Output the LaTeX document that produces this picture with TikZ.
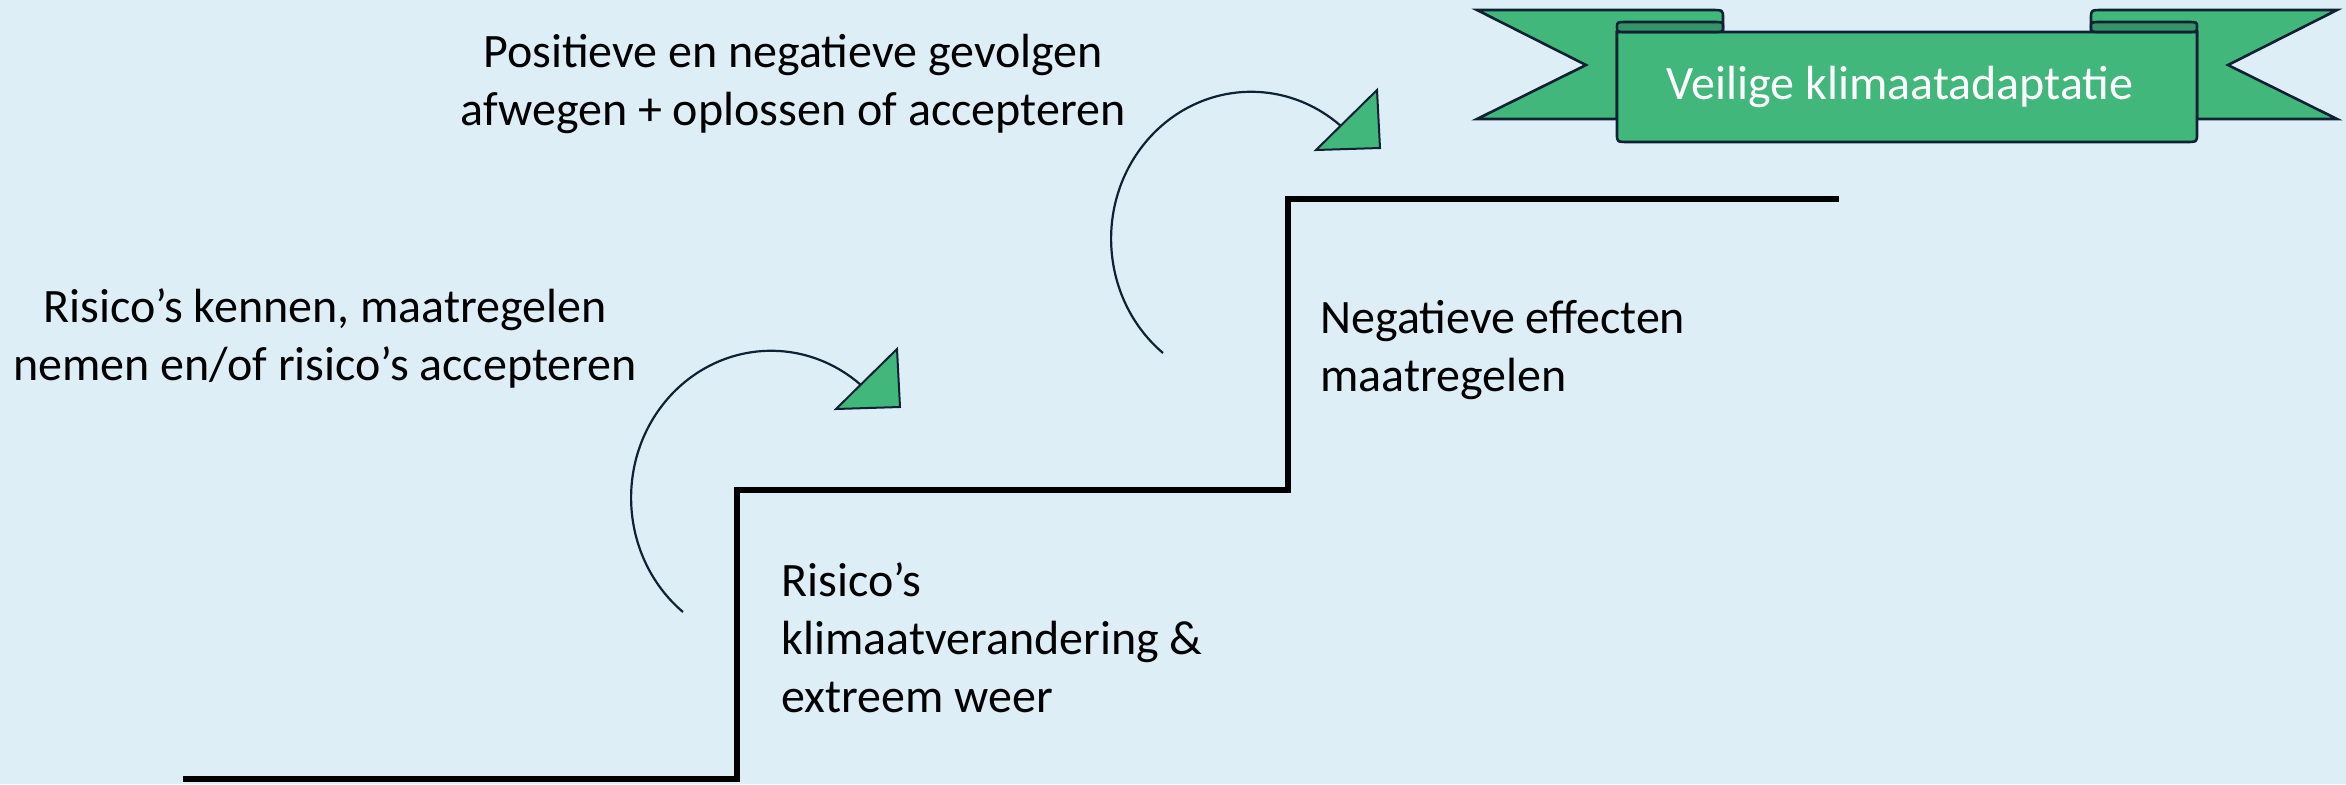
\documentclass[tikz,border=0pt]{standalone}
\usepackage{fontspec}
\setmainfont{Carlito}
\definecolor{bg}{HTML}{DDEEF7}
\definecolor{rib}{HTML}{41B77B}
\definecolor{ribdark}{HTML}{359468}
\definecolor{edgec}{HTML}{0E2233}
\tikzset{
  lbl/.style={font=\fontsize{24pt}{29pt}\selectfont, text=black, inner sep=0pt},
  stair/.style={line width=3.4pt, line join=miter, draw=black},
  curve/.style={line width=1.1pt, draw=edgec},
  tip/.style={fill=rib, draw=edgec, line width=1pt, line join=miter},
  ribpart/.style={fill=rib, draw=edgec, line width=1.3pt, line join=miter},
  ribroll/.style={fill=ribdark, draw=edgec, line width=1.3pt}
}
\begin{document}
\begin{tikzpicture}[x=0.5pt,y=-0.5pt]
\path[fill=bg] (0,0) rectangle (2346,784);
\useasboundingbox (0,0) rectangle (2346,784);

% staircase
\draw[stair] (183,779) -- (737,779) -- (737,490) -- (1288,490) -- (1288,199) -- (1839,199);

% curved arrows
\coordinate (a1s) at (683,612);
\draw[curve] (a1s) arc[start angle=129, end angle=311, x radius=140, y radius=147];
\draw[tip] (897,349) -- (900,407) -- (836,409) -- cycle;
\coordinate (a2s) at (1163,353);
\draw[curve] (a2s) arc[start angle=129, end angle=311, x radius=140, y radius=147];
\draw[tip] (1377,90) -- (1380,148) -- (1316,150) -- cycle;

% banner halves
\foreach \sx in {1,-1}{
\begin{scope}[shift={(1907,0)}, xscale=\sx]
  \draw[ribpart] (-430,10) -- (-196,10) .. controls (-184,10) .. (-184,18) -- (-184,32)
     -- (-290,32) -- (-290,119) -- (-430,119) -- (-321,65) -- cycle;
\end{scope}
}
% main panel
\draw[ribpart] (1617,32) -- (1617,134) .. controls (1617,142) .. (1629,142) -- (2185,142)
   .. controls (2197,142) .. (2197,134) -- (2197,32) -- cycle;
\foreach \sx in {1,-1}{
\begin{scope}[shift={(1907,0)}, xscale=\sx]
  \draw[ribroll] (-280,22) -- (-194,22) .. controls (-184,22) .. (-184,27) .. controls (-184,32) .. (-194,32)
     -- (-280,32) .. controls (-290,32) .. (-290,27) .. controls (-290,22) .. (-280,22) -- cycle;
\end{scope}
}
\node[lbl, text=white] (goal) at (1900,87) {Veilige klimaatadaptatie};

% texts
\node[lbl, align=center] (t1) at (793,84) {Positieve en negatieve gevolgen\\afwegen + oplossen of accepteren};
\node[lbl, align=center] (t2) at (325,338) {Risico’s kennen, maatregelen\\nemen en/of risico’s accepteren};
\node[lbl, align=left, anchor=west] (t3) at (1320,350) {Negatieve effecten\\maatregelen};
\node[lbl, align=left, anchor=west] (t4) at (781,638) {Risico’s\\klimaatverandering \&\\extreem weer};
\end{tikzpicture}
\end{document}
